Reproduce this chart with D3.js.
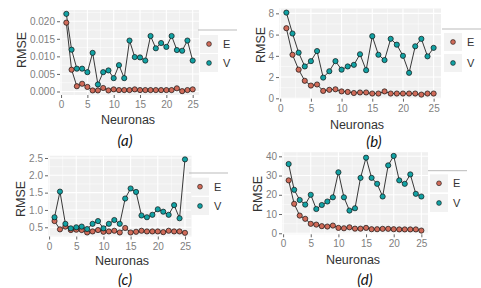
<!DOCTYPE html>
<html lang="es">
<head>
  <meta charset="UTF-8">
  <title>RMSE vs Neuronas</title>
  <script src="https://d3js.org/d3.v7.min.js"></script>
  <style>
    body { margin: 0; background: #fff; }
    .tick-label { font-family: "Liberation Sans", Arial, sans-serif; font-size: 10px; fill: #808080; }
    .axis-title { font-family: "Liberation Sans", Arial, sans-serif; font-size: 12.5px; fill: #333; }
    .legend-label { font-family: "Liberation Sans", Arial, sans-serif; font-size: 11px; fill: #333; }
    .caption { font-family: Lato, "Open Sans", sans-serif; font-style: italic; font-size: 15px; fill: #111; }
  </style>
</head>
<body>
<div id="chart"></div>
<script>
// numero de neuronas (eje x)
const neuronas = [1,2,3,4,5,6,7,8,9,10,11,12,13,14,15,16,17,18,19,20,21,22,23,24,25];
const xTicks = [0, 5, 10, 15, 20, 25];
const seriesNames = ["E", "V"];

// (a)
const aE = [0.0196,0.0062,0.0015,0.0022,0.0013,0.0003,0.0003,0.0010,0.0003,0.0006,0.0004,0.0004,0.0004,0.0006,0.0004,0.0004,0.0004,0.0004,0.0004,0.0004,0.0004,0.0009,0.0001,0.0004,0.0006];
const aV = [0.0221,0.0119,0.0065,0.0065,0.0055,0.0110,0.0020,0.0055,0.0060,0.0038,0.0075,0.0038,0.0145,0.0098,0.0097,0.0088,0.0158,0.0123,0.0138,0.0127,0.0158,0.0118,0.0116,0.0145,0.0088];
const aTicks = [0, 0.005, 0.010, 0.015, 0.020];
const aTickLabels = ["0.000", "0.005", "0.010", "0.015", "0.020"];

// (b)
const bE = [6.6,4.1,2.7,1.65,1.2,1.3,0.7,0.8,0.85,0.65,0.6,0.5,0.55,0.55,0.45,0.45,0.65,0.45,0.45,0.45,0.45,0.45,0.35,0.45,0.45];
const bV = [8.07,6.1,4.3,3.0,3.5,4.45,1.95,2.55,3.5,2.7,3.0,3.15,4.15,2.65,5.85,4.1,3.6,5.6,5.05,4.0,2.4,4.9,5.6,3.95,4.75];
const bTicks = [0, 2, 4, 6, 8];
const bTickLabels = ["0", "2", "4", "6", "8"];

// (c)
const cE = [0.68,0.44,0.52,0.42,0.43,0.42,0.35,0.38,0.42,0.37,0.38,0.40,0.35,0.48,0.35,0.37,0.40,0.38,0.38,0.38,0.36,0.40,0.38,0.38,0.34];
const cV = [0.79,1.53,0.60,0.47,0.50,0.52,0.45,0.60,0.68,0.47,0.60,0.71,0.60,1.33,1.62,1.52,0.84,0.79,0.86,1.02,0.95,0.86,1.14,0.76,2.46];
const cTicks = [0.5, 1.0, 1.5, 2.0, 2.5];
const cTickLabels = ["0.5", "1.0", "1.5", "2.0", "2.5"];

// (d)
const dE = [27.5,15.3,9.2,7.5,4.9,4.5,3.7,3.5,4.0,2.8,2.6,3.1,2.4,2.4,2.8,2.1,2.1,2.3,2.3,2.1,2.0,2.0,2.0,2.0,1.4];
const dV = [36.0,22.6,17.3,14.9,20.0,12.6,14.7,16.5,18.7,31.7,18.7,11.8,13.0,28.8,39.3,28.8,25.7,19.1,35.3,40.2,27.5,25.7,30.6,20.5,19.1];
const dTicks = [0, 10, 20, 30, 40];
const dTickLabels = ["0", "10", "20", "30", "40"];

const color = d3.scaleOrdinal().domain(seriesNames).range(["#d06b59", "#12a2a4"]);

// posicion de cada sub-figura en la imagen
const panels = [
  {E: aE, V: aV, ticks: aTicks, labels: aTickLabels, caption: "(a)",
   left: 60, right: 199, top: 10, bottom: 95,
   yTitle: [22, 50], xTitle: [128, 120], cap: [125, 141],
   legend: {x: 200, line: 30, yE: 44, yV: 63}},
  {E: bE, V: bV, ticks: bTicks, labels: bTickLabels, caption: "(b)",
   left: 279, right: 441, top: 8.5, bottom: 98.7,
   yTitle: [261, 45], xTitle: [357, 125], cap: [374, 142],
   legend: {x: 444, line: 29, yE: 42, yV: 63}},
  {E: cE, V: cV, ticks: cTicks, labels: cTickLabels, caption: "(c)",
   left: 48, right: 191.5, top: 155.7, bottom: 236.5,
   yTitle: [21, 199], xTitle: [122, 261], cap: [125, 280],
   legend: {x: 191, line: 173, yE: 186.7, yV: 206}},
  {E: dE, V: dV, ticks: dTicks, labels: dTickLabels, caption: "(d)",
   left: 282, right: 428, top: 152.2, bottom: 234.3,
   yTitle: [258, 194], xTitle: [353, 260], cap: [365, 280],
   legend: {x: 430, line: 170.7, yE: 183.3, yV: 203}}
];

const svg = d3.select("#chart").append("svg")
  .attr("width", 481)
  .attr("height", 288);

function expand(ext) {
  const pad = (ext[1] - ext[0]) * 0.05;
  return [ext[0] - pad, ext[1] + pad];
}

function drawPanel(p) {
  const g = svg.append("g");
  const all = p.E.concat(p.V);
  const x = d3.scaleLinear().domain(expand([1, 25])).range([p.left, p.right]);
  const y = d3.scaleLinear().domain(expand(d3.extent(all))).range([p.bottom, p.top]);

  g.append("rect")
    .attr("x", p.left).attr("y", p.top)
    .attr("width", p.right - p.left).attr("height", p.bottom - p.top)
    .attr("fill", "#f0f0f0");

  // rejilla menor y mayor
  const yStep = p.ticks[1] - p.ticks[0];
  const yMinor = p.ticks.map(t => t - yStep / 2).concat([p.ticks[p.ticks.length - 1] + yStep / 2])
    .filter(v => v >= y.domain()[0] && v <= y.domain()[1]);
  const xMinor = xTicks.map(t => t + 2.5).filter(v => v <= x.domain()[1]);

  g.selectAll(".ymin").data(yMinor).join("line")
    .attr("x1", p.left).attr("x2", p.right)
    .attr("y1", d => y(d)).attr("y2", d => y(d))
    .attr("stroke", "#fff").attr("stroke-width", 0.5);
  g.selectAll(".xmin").data(xMinor).join("line")
    .attr("y1", p.top).attr("y2", p.bottom)
    .attr("x1", d => x(d)).attr("x2", d => x(d))
    .attr("stroke", "#fff").attr("stroke-width", 0.5);
  g.selectAll(".ymaj").data(p.ticks).join("line")
    .attr("x1", p.left).attr("x2", p.right)
    .attr("y1", d => y(d)).attr("y2", d => y(d))
    .attr("stroke", "#fff").attr("stroke-width", 1.1);
  g.selectAll(".xmaj").data(xTicks).join("line")
    .attr("y1", p.top).attr("y2", p.bottom)
    .attr("x1", d => x(d)).attr("x2", d => x(d))
    .attr("stroke", "#fff").attr("stroke-width", 1.1);

  // ejes
  const yAxis = d3.axisLeft(y).tickValues(p.ticks).tickFormat((d, i) => p.labels[i]).tickSize(3).tickPadding(2);
  const ya = g.append("g").attr("transform", `translate(${p.left},0)`).call(yAxis);
  const xAxis = d3.axisBottom(x).tickValues(xTicks).tickSize(3).tickPadding(3);
  const xa = g.append("g").attr("transform", `translate(0,${p.bottom})`).call(xAxis);
  [ya, xa].forEach(a => {
    a.select(".domain").remove();
    a.selectAll(".tick line").attr("stroke", "#666");
    a.selectAll(".tick text").attr("class", "tick-label").attr("font-size", null).attr("font-family", null).attr("fill", null);
  });

  // lineas y puntos
  const line = d3.line().x((d, i) => x(neuronas[i])).y(d => y(d));
  seriesNames.forEach(s => {
    g.append("path").datum(p[s])
      .attr("d", line).attr("fill", "none")
      .attr("stroke", "#222").attr("stroke-width", 0.9);
  });
  seriesNames.forEach(s => {
    g.selectAll(".pt" + s).data(p[s]).join("circle")
      .attr("cx", (d, i) => x(neuronas[i]))
      .attr("cy", d => y(d))
      .attr("r", 2.6)
      .attr("fill", color(s))
      .attr("stroke", "#111").attr("stroke-width", 0.7);
  });

  // titulos
  g.append("text").attr("class", "axis-title")
    .attr("transform", `translate(${p.yTitle[0]},${p.yTitle[1]}) rotate(-90)`)
    .attr("text-anchor", "middle").attr("dy", "0.35em").text("RMSE");
  g.append("text").attr("class", "axis-title")
    .attr("x", p.xTitle[0]).attr("y", p.xTitle[1])
    .attr("text-anchor", "middle").attr("dy", "0.35em").text("Neuronas");
  g.append("text").attr("class", "caption")
    .attr("x", p.cap[0]).attr("y", p.cap[1])
    .attr("text-anchor", "middle").attr("dy", "0.35em").text(p.caption);

  // leyenda
  const L = p.legend;
  g.append("line")
    .attr("x1", L.x - 2).attr("x2", L.x + 37)
    .attr("y1", L.line).attr("y2", L.line)
    .attr("stroke", "#bbb").attr("stroke-width", 1);
  seriesNames.forEach(s => {
    const cy = s === "E" ? L.yE : L.yV;
    g.append("rect").attr("x", L.x).attr("y", cy - 9)
      .attr("width", 18).attr("height", 18).attr("fill", "#f2f2f2");
    g.append("circle").attr("cx", L.x + 9).attr("cy", cy).attr("r", 2.4)
      .attr("fill", color(s)).attr("stroke", "#111").attr("stroke-width", 0.6);
    g.append("text").attr("class", "legend-label")
      .attr("x", L.x + 23).attr("y", cy).attr("dy", "0.35em").text(s);
  });
}

panels.forEach(drawPanel);
</script>
</body>
</html>
